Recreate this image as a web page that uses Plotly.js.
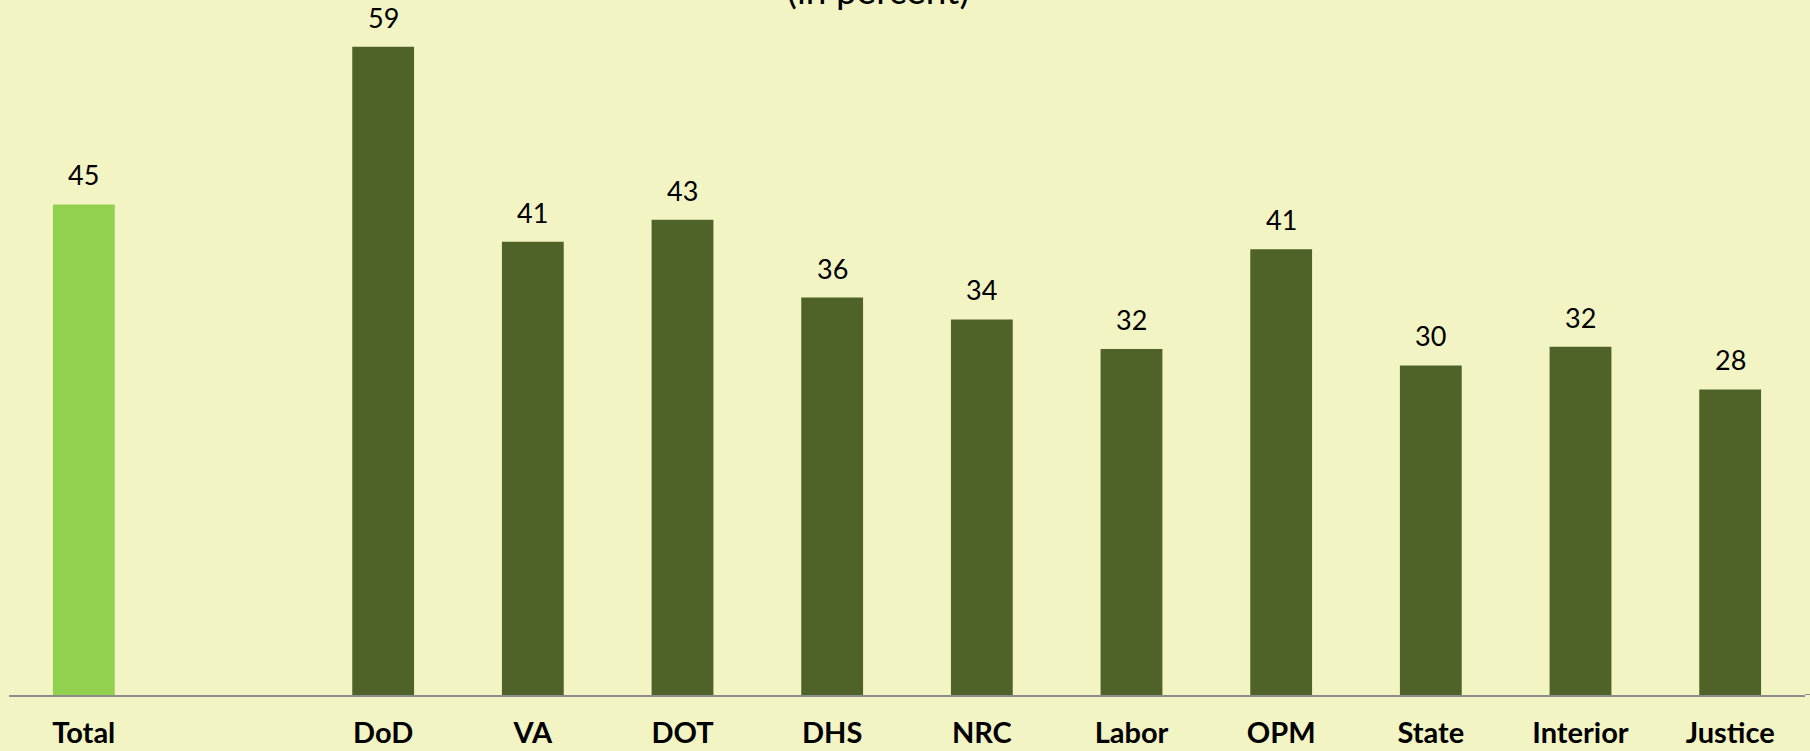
<!DOCTYPE html>
<html>
<head>
<meta charset="utf-8">
<script src="https://cdn.plot.ly/plotly-3.0.1.min.js"></script>
<style>html,body{margin:0;padding:0;background:#F2F4C4;}#chart{width:1810px;height:751px;}</style>
</head>
<body>
<div id="chart"></div>
<script>
// Categories (a blank slot separates Total from the agencies)
var categories = ["Total", " ", "DoD", "VA", "DOT", "DHS", "NRC", "Labor", "OPM", "State", "Interior", "Justice"];
// Values in percent
var values = [44.8, null, 59.2, 41.4, 43.4, 36.3, 34.3, 31.6, 40.7, 30.1, 31.8, 27.9];
// Displayed data labels
var labels = ["45", "", "59", "41", "43", "36", "34", "32", "41", "30", "32", "28"];
var subtitle = "(in percent)";

var barColors = categories.map(function (c) { return c === "Total" ? "#92D050" : "#4F6228"; });

var trace = {
  type: "bar",
  x: categories,
  y: values,
  marker: { color: barColors, line: { width: 0 } },
  hoverinfo: "x+y",
  cliponaxis: false
};

var annotations = [];
categories.forEach(function (c, i) {
  if (values[i] === null) return;
  annotations.push({
    x: c, y: values[i], xref: "x", yref: "y",
    text: labels[i], showarrow: false,
    yanchor: "bottom", xanchor: "center", yshift: 11,
    font: { family: "Lato, 'Open Sans', sans-serif", size: 27, color: "#000000" }
  });
});
annotations.push({
  x: 0.484, y: 1, xref: "paper", yref: "paper",
  text: subtitle, showarrow: false,
  xanchor: "center", yanchor: "bottom", yshift: -14,
  font: { family: "Lato, 'Open Sans', sans-serif", size: 37, color: "#000000" }
});

var layout = {
  width: 1810, height: 751,
  margin: { l: 9, r: 5, t: 0, b: 56, pad: 0 },
  paper_bgcolor: "#F2F4C4",
  plot_bgcolor: "#F2F4C4",
  showlegend: false,
  bargap: 0.587,
  xaxis: {
    type: "category",
    categoryorder: "array",
    categoryarray: categories,
    range: [-0.5, 11.5],
    showline: true, linecolor: "#8C8C8C", linewidth: 2,
    showgrid: false, zeroline: false, ticks: "",
    ticklabelstandoff: 11,
    tickfont: { family: "Lato, 'Open Sans', sans-serif", size: 29, color: "#000000", weight: "bold" }
  },
  yaxis: {
    range: [0, 63.47],
    showgrid: false, zeroline: false, showline: false,
    showticklabels: false, ticks: ""
  },
  shapes: [{
    type: "line", xref: "paper", yref: "y", x0: 1, x1: 1.01, y0: 0, y1: 0,
    line: { color: "#8C8C8C", width: 2 }
  }],
  annotations: annotations
};

Plotly.newPlot("chart", [trace], layout, { displayModeBar: false, staticPlot: true });
</script>
</body>
</html>
